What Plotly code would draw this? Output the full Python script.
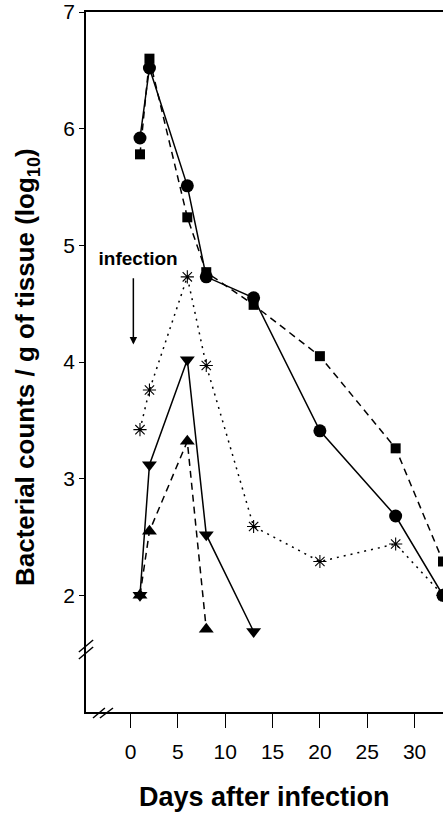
import plotly.graph_objects as go

# Days after infection and log10 counts per series
days_circle = [1, 2, 6, 8, 13, 20, 28, 33]
vals_circle = [5.92, 6.52, 5.51, 4.73, 4.55, 3.41, 2.68, 2.0]

days_square = [1, 2, 6, 8, 13, 20, 28, 33]
vals_square = [5.78, 6.60, 5.24, 4.77, 4.49, 4.05, 3.26, 2.29]

days_aster = [1, 2, 6, 8, 13, 20, 28, 33]
vals_aster = [3.42, 3.76, 4.73, 3.97, 2.59, 2.29, 2.44, 2.0]

days_down = [1, 2, 6, 8, 13]
vals_down = [2.0, 3.12, 4.02, 2.52, 1.69]

days_up = [1, 2, 6, 8]
vals_up = [2.0, 2.55, 3.32, 1.71]

x_ticks = [0, 5, 10, 15, 20, 25, 30]
y_ticks = [2, 3, 4, 5, 6, 7]

x_title = "<b>Days after infection</b>"
y_title = "<b>Bacterial counts / g of tissue (log<sub>10</sub>)</b>"

fig = go.Figure()

def add(xs, ys, symbol, size, dash, mline=0):
    fig.add_trace(go.Scatter(
        x=xs, y=ys, mode="lines+markers",
        line=dict(color="black", width=1.5, dash=dash),
        marker=dict(symbol=symbol, size=size, color="black",
                    line=dict(color="black", width=mline)),
        showlegend=False,
    ))

add(days_aster, vals_aster, "asterisk-open", 11, "2px,5px", 1.1)
add(days_up, vals_up, "triangle-up", 13, "7px,5px")
add(days_down, vals_down, "triangle-down", 13, "solid")
add(days_square, vals_square, "square", 10, "7px,5px")
add(days_circle, vals_circle, "circle", 13, "solid")

font_family = "Liberation Sans, Arial, Helvetica, sans-serif"

fig.update_layout(
    width=443, height=813,
    margin=dict(l=86, r=0, t=12, b=101),
    paper_bgcolor="white", plot_bgcolor="white",
    font=dict(family=font_family, color="black"),
    xaxis=dict(
        range=[-4.7, 33.0], tickvals=x_ticks, ticks="outside", ticklen=14,
        tickwidth=1, tickcolor="black", showline=True, linecolor="black",
        linewidth=1.5, mirror=True, showgrid=False, zeroline=False,
        automargin=False, ticklabelstandoff=6,
        tickfont=dict(size=21, family=font_family),
    ),
    yaxis=dict(
        range=[1.0, 7.0], tickvals=y_ticks, ticks="outside", ticklen=5,
        tickwidth=1, tickcolor="black", showline=True, linecolor="black",
        linewidth=1.5, showgrid=False, zeroline=False,
        automargin=False,
        tickfont=dict(size=21, family=font_family),
    ),
)

# axis titles
fig.add_annotation(x=0.501, y=-0.1215, xref="paper", yref="paper", text=x_title,
                   showarrow=False, xanchor="center", yanchor="middle",
                   font=dict(size=27, family=font_family))
fig.add_annotation(x=-0.165, y=0.493, xref="paper", yref="paper", text=y_title,
                   showarrow=False, xanchor="center", yanchor="middle", textangle=-90,
                   font=dict(size=26, family=font_family))

# axis break marks
brk = dict(type="line", xref="paper", yref="paper", line=dict(color="black", width=1.5))
fig.add_shape(**brk, x0=-0.02, y0=0.0857, x1=0.02, y1=0.1029)
fig.add_shape(**brk, x0=-0.02, y0=0.0757, x1=0.02, y1=0.0929)
fig.add_shape(**brk, x0=0.0196, y0=-0.0086, x1=0.053, y1=0.0057)
fig.add_shape(**brk, x0=0.039, y0=-0.0086, x1=0.0756, y1=0.0057)

# infection label with arrow
fig.add_annotation(x=0.3, y=4.15, ax=0.3, ay=4.89, xref="x", yref="y",
                   axref="x", ayref="y",
                   text="&nbsp;&nbsp;<b>infection</b>", showarrow=True,
                   arrowhead=2, arrowsize=1, arrowwidth=1.5, arrowcolor="black",
                   startstandoff=8,
                   font=dict(size=19, family=font_family))

fig.write_html(
    "out.html",
    config={"displayModeBar": False},
    post_script="document.body.style.margin='0';document.body.style.overflow='hidden';",
)
